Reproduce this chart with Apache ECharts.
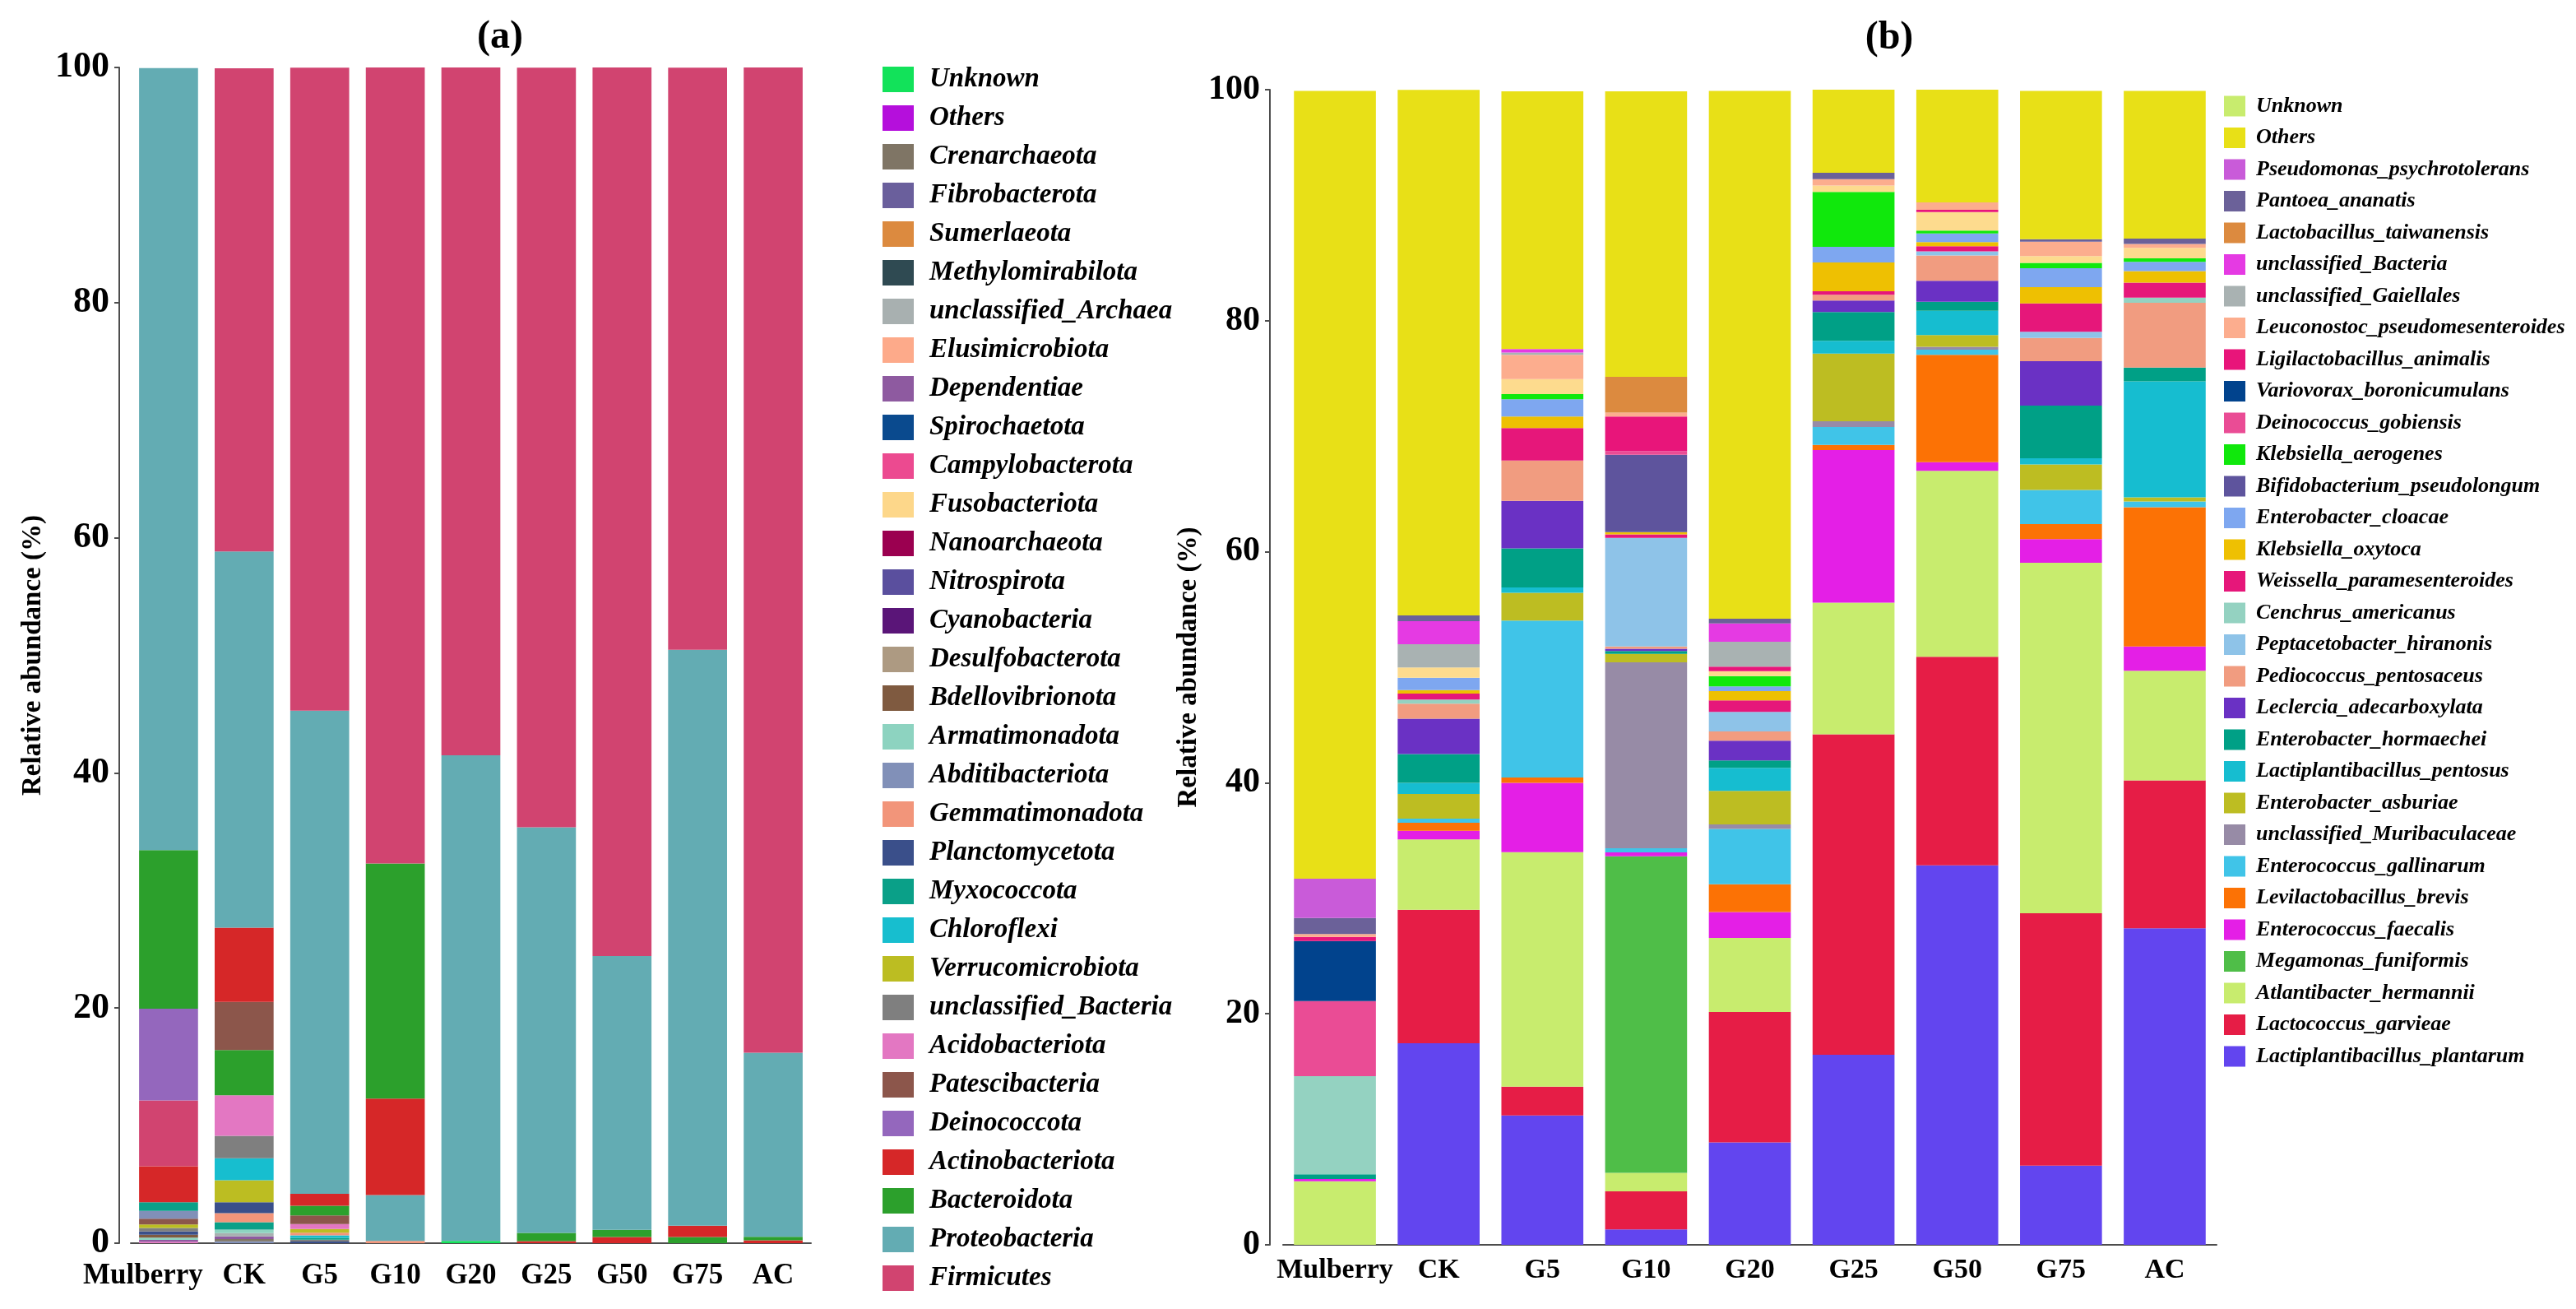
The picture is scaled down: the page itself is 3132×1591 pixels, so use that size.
<!DOCTYPE html>
<html>
<head>
<meta charset="utf-8">
<title>Relative abundance</title>
<script src="https://cdn.jsdelivr.net/npm/echarts@6/dist/echarts.min.js"></script>
<style>
html,body{margin:0;padding:0;background:#fff;}
#main{width:3132px;height:1591px;}
</style>
</head>
<body>
<div id="main"></div>
<script>
var samples = ['Mulberry','CK','G5','G10','G20','G25','G50','G75','AC'];

// panel (a): phyla, in legend order (top to bottom)
var phylumNames = ['Unknown','Others','Crenarchaeota','Fibrobacterota','Sumerlaeota','Methylomirabilota',
	'unclassified_Archaea','Elusimicrobiota','Dependentiae','Spirochaetota','Campylobacterota','Fusobacteriota',
	'Nanoarchaeota','Nitrospirota','Cyanobacteria','Desulfobacterota','Bdellovibrionota','Armatimonadota',
	'Abditibacteriota','Gemmatimonadota','Planctomycetota','Myxococcota','Chloroflexi','Verrucomicrobiota',
	'unclassified_Bacteria','Acidobacteriota','Patescibacteria','Deinococcota','Actinobacteriota',
	'Bacteroidota','Proteobacteria','Firmicutes'];
var phylumColors = ['#12e25a','#b50fdc','#7f7565','#6a5f9c','#dc8a3f','#2f4a52',
	'#a8b0b0','#fdaa8a','#8e5aa0','#0a4a8e','#ec4a90','#fdd78a',
	'#9b0050','#5a4f9e','#5a1578','#ad9a82','#7f5a40','#8dd3c0',
	'#8190b8','#f2957a','#3a4f8a','#0aa088','#17becf','#bcbd22',
	'#7f7f7f','#e377c2','#8c564b','#9467bd','#d62728',
	'#2ca02c','#63acb3','#d14470'];

// relative abundance (%) per sample, same order as phylumNames
var phylumMulberry = [0,0,0,0,0,0, 0,0,0.16,0,0,0, 0,0,0,0,0.23,0.2, 0.65,0,0.28,0.75,0,0.3, 0.3,0.12,0.5,7.8,3.05, 13.5,66.5,5.6];
var phylumCK       = [0,0,0.19,0,0,0, 0.28,0,0.23,0,0,0, 0,0,0,0,0,0.3, 0.16,0.77,0.93,0.63,1.87,1.87, 1.9,3.45,4.1,0,6.3, 3.85,32.0,41.1];
var phylumG5       = [0,0,0,0,0,0, 0,0,0,0,0,0, 0,0,0,0,0,0, 0,0.23,0.14,0.16,0.21,0.3, 0.16,0.42,0.75,0,1.0, 0.82,41.1,54.7];
var phylumG10      = [0,0,0,0,0,0, 0,0,0,0,0,0, 0,0,0,0,0,0, 0,0.2,0,0,0,0, 0,0,0,0,8.2, 20.0,3.9,67.7];
var phylumG20      = [0.2,0,0,0,0,0, 0,0,0,0,0,0, 0,0,0,0,0,0, 0,0,0,0,0,0, 0,0,0,0,0, 0,41.3,58.5];
var phylumG25      = [0,0,0,0,0,0, 0,0,0,0,0,0, 0,0,0,0,0,0, 0,0,0,0,0,0, 0,0,0,0,0.18, 0.7,34.5,64.6];
var phylumG50      = [0,0,0,0,0,0, 0,0,0,0,0,0, 0,0,0,0,0,0, 0,0,0,0,0,0, 0,0,0,0,0.53, 0.6,23.3,75.6];
var phylumG75      = [0,0,0,0,0,0, 0,0,0,0,0,0, 0,0,0,0,0,0, 0,0,0,0,0,0, 0,0,0,0,0.95, 0.53,49.0,49.5];
var phylumAC       = [0,0,0,0,0,0, 0,0,0,0,0,0, 0,0,0,0,0,0, 0,0,0,0,0,0, 0,0,0,0,0.25, 0.3,15.65,83.8];
var phylumBySample = [phylumMulberry,phylumCK,phylumG5,phylumG10,phylumG20,phylumG25,phylumG50,phylumG75,phylumAC];

// panel (b): species, in legend order (top to bottom); 'unlisted' has no legend entry
var speciesNames = ['Unknown','Others','Pseudomonas_psychrotolerans','Pantoea_ananatis','Lactobacillus_taiwanensis',
	'unclassified_Bacteria','unclassified_Gaiellales','Leuconostoc_pseudomesenteroides','Ligilactobacillus_animalis',
	'Variovorax_boronicumulans','Deinococcus_gobiensis','unlisted','Klebsiella_aerogenes','Bifidobacterium_pseudolongum',
	'Enterobacter_cloacae','Klebsiella_oxytoca','Weissella_paramesenteroides','Cenchrus_americanus',
	'Peptacetobacter_hiranonis','Pediococcus_pentosaceus','Leclercia_adecarboxylata','Enterobacter_hormaechei',
	'Lactiplantibacillus_pentosus','Enterobacter_asburiae','unclassified_Muribaculaceae','Enterococcus_gallinarum',
	'Levilactobacillus_brevis','Enterococcus_faecalis','Megamonas_funiformis','Atlantibacter_hermannii',
	'Lactococcus_garvieae','Lactiplantibacillus_plantarum'];
var speciesColors = ['#c8ec6e','#e8e017','#c95bd9','#6b6199','#dc8a3f',
	'#e53ae3','#a9b2b2','#fcad8e','#e8157a',
	'#01438d','#ea4c95','#fddb8e','#10e80c','#5e549d',
	'#7ea7f0','#eec002','#e6177a','#94d2c1',
	'#8ec3e8','#f19c80','#6a31c4','#00a086',
	'#16bdd0','#bdbd22','#978ba6','#40c4e8',
	'#fc7205','#e41fe6','#4fbe48','#c8ec6e',
	'#e61d46','#6245ef'];

var speciesMulberry = [0,68.2,3.4,1.4,0, 0,0,0.25,0.35, 5.2,6.5,0,0,0, 0,0,0,8.5, 0,0,0,0.4, 0,0,0,0, 0,0.2,0,5.5, 0,0];
var speciesCK       = [0,45.5,0,0.5,0, 2.0,2.0,0,0, 0,0,0.9,0,0, 1.06,0.31,0.52,0.36, 0,1.3,3.05,2.5, 0.95,2.14,0,0.36, 0.7,0.74,0,6.1, 11.55,17.45];
var speciesG5       = [0,22.3,0,0,0, 0.3,0.2,2.1,0, 0,0,1.3,0.45,0, 1.5,1.0,2.8,0, 0,3.5,4.1,3.4, 0.45,2.4,0,13.6, 0.45,6.0,0,20.3, 2.5,11.2];
var speciesG10      = [0,24.7,0,0,3.1, 0,0,0.35,3.0, 0,0.3,0,0,6.7, 0,0.2,0.3,0, 9.4,0.2,0.2,0.25, 0,0.72,16.1,0.35, 0,0.35,27.4,1.6, 3.3,1.33];
var speciesG20      = [0,45.7,0,0.4,0, 1.6,2.15,0,0.38, 0,0,0.43,0.9,0, 0.4,0.8,1.0,0, 1.7,0.8,1.7,0.65, 2.0,2.9,0.38,4.8, 2.4,2.25,0,6.4, 11.3,8.86];
var speciesG25      = [0,7.2,0,0.55,0, 0,0,0.55,0, 0,0,0.55,4.75,0, 1.35,2.5,0.3,0, 0,0.5,1.0,2.5, 1.1,5.85,0.5,1.55, 0.45,13.2,0,11.4, 27.75,16.45];
var speciesG50      = [0,9.75,0,0,0, 0,0,0.65,0.2, 0,0,1.6,0.25,0, 0.75,0.35,0.45,0, 0.35,2.2,1.8,0.8, 2.1,1.0,0.25,0.45, 9.3,0.75,0,16.1, 18.05,32.85];
var speciesG75      = [0,12.85,0,0.2,0, 0,0,1.25,0, 0,0,0.6,0.45,0, 1.65,1.4,2.45,0, 0.55,2.0,3.85,4.55, 0.55,2.2,0,2.95, 1.3,2.05,0,30.35, 21.85,6.85];
var speciesAC       = [0,12.8,0,0.45,0, 0,0,0.35,0, 0,0,0.9,0.3,0, 0.8,1.0,1.3,0.45, 0,5.6,0,1.2, 10.05,0.35,0,0.5, 12.05,2.1,0,9.5, 12.8,27.4];
var speciesBySample = [speciesMulberry,speciesCK,speciesG5,speciesG10,speciesG20,speciesG25,speciesG50,speciesG75,speciesAC];

var FONT = "'Liberation Serif', 'Times New Roman', serif";
var AXIS_COLOR = '#4d4d4d';

function xAxisFor(grid, fontSize, margin, labels){
	return {
		type: 'category', gridIndex: grid, data: labels,
		axisLine: {lineStyle: {color: AXIS_COLOR, width: 2}},
		axisTick: {alignWithLabel: true, length: 8, lineStyle: {color: AXIS_COLOR, width: 2}},
		axisLabel: {interval: 0, color: '#000', fontFamily: FONT, fontWeight: 'bold', fontSize: fontSize, margin: margin}
	};
}
function yAxisFor(grid, offset, fontSize, nameGap){
	return {
		type: 'value', gridIndex: grid, min: 0, max: 100, interval: 20, offset: offset,
		axisLine: {show: true, lineStyle: {color: AXIS_COLOR, width: 2}},
		axisTick: {show: true, length: 6, lineStyle: {color: AXIS_COLOR, width: 2}},
		splitLine: {show: false},
		axisLabel: {color: '#000', fontFamily: FONT, fontWeight: 'bold', fontSize: fontSize, margin: 12},
		name: 'Relative abundance (%)', nameLocation: 'middle', nameGap: nameGap,
		nameTextStyle: {color: '#000', fontFamily: FONT, fontWeight: 'bold', fontSize: 33}
	};
}

// in (a) the first label sits a little left of its tick
var labelsA = samples.map(function(s, i){
	return i === 0 ? {value: s, textStyle: {padding: [0, 62, 0, 0]}} : s;
});

var series = [];

// (a): each bar is sorted on its own, largest on top, so stack by rank
var layers = [];
for (var k = 0; k < phylumNames.length; k++) {
	layers.push({type: 'bar', stack: 'phylum', xAxisIndex: 0, yAxisIndex: 0, barCategoryGap: '22%', silent: true, data: []});
}
phylumBySample.forEach(function(vals, s){
	var order = vals.map(function(v, i){ return i; });
	order.sort(function(p, q){ return vals[p] - vals[q] || q - p; });
	order.forEach(function(idx, rank){
		layers[rank].data[s] = {value: vals[idx], itemStyle: {color: phylumColors[idx]}};
	});
});
series = series.concat(layers);
// legend carriers for (a)
phylumNames.forEach(function(name, i){
	series.push({type: 'bar', name: name, stack: 'phylum', xAxisIndex: 0, yAxisIndex: 0, data: [], itemStyle: {color: phylumColors[i]}});
});

// (b): fixed order, bottom of stack = last legend entry
for (var i = speciesNames.length - 1; i >= 0; i--) {
	series.push({
		type: 'bar', name: speciesNames[i], stack: 'species', xAxisIndex: 1, yAxisIndex: 1,
		barCategoryGap: '21%', silent: true, itemStyle: {color: speciesColors[i]},
		data: speciesBySample.map(function(vals){ return vals[i]; })
	});
}

var legendText = function(size, lh, pad){
	return {color: '#000', fontFamily: FONT, fontWeight: 'bold', fontStyle: 'italic', fontSize: size, lineHeight: lh, padding: [0, 0, 0, pad]};
};

var option = {
	backgroundColor: '#fff',
	animation: false,
	grid: [
		{left: 159, top: 82, width: 827, height: 1429},
		{left: 1560, top: 109, width: 1135, height: 1404}
	],
	xAxis: [xAxisFor(0, 35, 22, labelsA), xAxisFor(1, 34, 14, samples)],
	yAxis: [yAxisFor(0, 14, 44, 88), yAxisFor(1, 16, 42, 82)],
	legend: [
		{
			orient: 'vertical', left: 1073, top: 80, height: 1505, padding: 0, icon: 'rect',
			itemWidth: 38, itemHeight: 31, itemGap: 14, selectedMode: false,
			textStyle: legendText(33, 33, 14),
			data: phylumNames.map(function(n, i){ return {name: n, itemStyle: {color: phylumColors[i]}}; })
		},
		{
			orient: 'vertical', left: 2704, top: 116, height: 1300, padding: 0, icon: 'rect',
			itemWidth: 26, itemHeight: 25, itemGap: 12.5, selectedMode: false,
			textStyle: legendText(26, 26, 8),
			data: speciesNames.map(function(n, i){ return {name: n, itemStyle: {color: speciesColors[i]}}; })
				.filter(function(d){ return d.name !== 'unlisted'; })
		}
	],
	graphic: [
		{type: 'text', x: 608, y: 46, style: {text: '(a)', textAlign: 'center', textVerticalAlign: 'middle', fill: '#000', font: 'bold 48px ' + FONT}},
		{type: 'text', x: 2297, y: 47, style: {text: '(b)', textAlign: 'center', textVerticalAlign: 'middle', fill: '#000', font: 'bold 48px ' + FONT}}
	],
	series: series
};

var myChart = echarts.init(document.getElementById('main'));
myChart.setOption(option);
</script>
</body>
</html>
